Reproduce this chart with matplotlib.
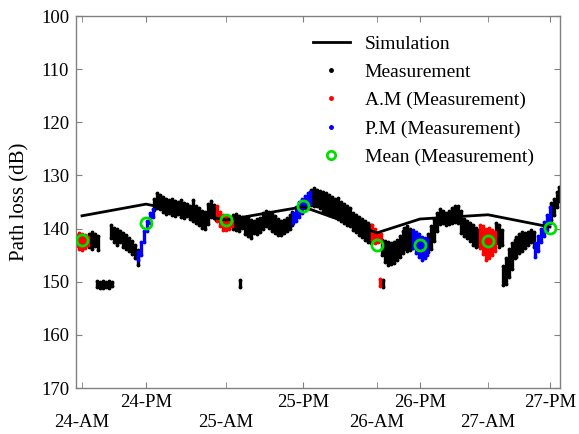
import matplotlib
matplotlib.use("Agg")
import matplotlib.pyplot as plt
from matplotlib.lines import Line2D

plt.rcParams['font.family'] = ['Liberation Serif', 'DejaVu Serif']
plt.rcParams['font.size'] = 13

# tick positions (sample index) and labels
am_pos = [6, 150, 301, 412]
am_lab = ['24-AM', '25-AM', '26-AM', '27-AM']
pm_pos = [70, 227, 344, 474]
pm_lab = ['24-PM', '25-PM', '26-PM', '27-PM']
tick_pos = [6, 70, 150, 227, 301, 344, 412, 474]

# simulation path loss at each tick
sim_loss = [137.6, 135.4, 138.4, 135.9, 140.8, 138.2, 137.4, 139.7]

# mean of measurement at each tick
mean_loss = [142.2, 138.9, 138.3, 135.7, 143.1, 143.0, 142.3, 139.8]

# measurement segments: x, lower dB, upper dB (envelope of the point cloud)
# A.M (red)
r1_x = [0, 3, 6, 9, 12]
r1_lo = [141.2, 140.9, 141.0, 141.3, 141.6]
r1_hi = [143.2, 143.8, 144.0, 143.6, 143.0]
r2_x = [141, 144, 147, 150, 153, 156]
r2_lo = [135.8, 136.8, 137.4, 137.6, 137.8, 138.0]
r2_hi = [138.6, 139.6, 140.2, 140.3, 140.0, 139.6]
r3_x = [296, 299, 302, 305]
r3_lo = [139.3, 140.0, 140.8, 141.0]
r3_hi = [142.2, 142.8, 142.6, 142.4]
r3b_x = [304]
r3b_lo = [149.4]
r3b_hi = [150.8]
r4_x = [404, 407, 410, 413, 416, 419]
r4_lo = [139.3, 139.6, 140.0, 139.8, 140.2, 140.6]
r4_hi = [143.6, 144.8, 145.9, 145.6, 145.0, 144.2]

# P.M (blue)
p1_x = [62, 65, 68, 71, 74, 77]
p1_lo = [144.5, 142.5, 140.5, 138.5, 137.0, 136.3]
p1_hi = [146.0, 145.0, 142.5, 140.5, 139.0, 137.8]
p2_x = [217, 220, 223, 226, 229, 232, 234]
p2_lo = [137.0, 136.0, 135.0, 134.4, 133.8, 133.4, 133.2]
p2_hi = [139.0, 138.6, 137.8, 137.0, 136.2, 135.6, 135.4]
p3_x = [337, 340, 343, 346, 349, 351]
p3_lo = [140.2, 140.6, 141.0, 141.6, 141.8, 142.0]
p3_hi = [143.6, 144.6, 145.4, 145.9, 145.6, 145.0]
p4_x = [459, 462, 465, 468, 471, 474]
p4_lo = [142.8, 141.4, 140.0, 138.8, 137.4, 136.0]
p4_hi = [145.3, 144.2, 142.6, 141.4, 140.2, 139.0]

# other measurement (black)
b1_x = [13, 16, 19, 22]
b1_lo = [141.0, 140.6, 141.0, 141.4]
b1_hi = [143.4, 143.8, 143.2, 144.0]
b2_x = [21, 24, 27, 30, 33, 36]
b2_lo = [149.8, 150.0, 149.9, 150.1, 149.8, 150.0]
b2_hi = [151.0, 151.2, 151.1, 151.0, 151.2, 150.9]
b3_x = [35, 38, 41, 44, 47, 50, 53, 56, 59, 62]
b3_lo = [139.4, 139.8, 140.0, 140.5, 140.8, 141.2, 141.8, 142.4, 143.0, 144.0]
b3_hi = [141.8, 142.6, 143.0, 142.6, 143.4, 143.8, 144.2, 144.8, 145.5, 146.9]
b4_x = [78, 81, 84, 87, 90, 93, 96, 99, 102, 105, 108, 111, 114, 117, 120,
        123, 126, 129, 132, 135, 138, 140]
b4_lo = [134.5, 133.4, 133.6, 134.0, 134.4, 134.6, 134.5, 134.8, 135.0, 134.6,
         135.2, 135.4, 135.8, 134.6, 135.8, 136.2, 136.6, 136.8, 135.4, 134.9,
         135.5, 136.0]
b4_hi = [136.5, 136.2, 136.4, 136.8, 137.2, 137.0, 137.4, 137.6, 137.2, 137.8,
         138.0, 137.6, 138.2, 138.6, 139.0, 139.4, 139.8, 140.0, 139.2, 137.8,
         138.0, 138.4]
b5_x = [157, 160, 163, 166, 169, 172, 175, 178, 181, 184, 187, 190, 193, 196,
        199, 202, 205, 208, 211, 214, 216]
b5_lo = [137.4, 137.2, 137.6, 137.8, 138.2, 137.8, 138.4, 138.6, 138.2, 138.0,
         137.0, 136.6, 136.8, 137.2, 137.6, 138.2, 138.6, 138.4, 138.0, 137.4,
         136.8]
b5_hi = [140.0, 140.2, 140.4, 139.8, 141.0, 141.4, 141.8, 140.8, 141.0, 140.6,
         140.0, 139.6, 139.8, 140.4, 140.8, 141.2, 141.2, 140.8, 140.4, 140.0,
         139.4]
b5b_x = [164]
b5b_lo = [149.7]
b5b_hi = [151.0]
b6_x = [235, 238, 241, 244, 247, 250, 253, 256, 259, 262, 265, 268, 271, 274,
        277, 280, 283, 286, 289, 292, 295]
b6_lo = [132.8, 132.4, 132.7, 133.0, 133.2, 133.4, 133.6, 134.0, 134.4, 134.3,
         135.0, 135.4, 135.8, 136.2, 137.0, 137.4, 137.8, 138.2, 138.6, 139.0,
         139.4]
b6_hi = [135.6, 135.8, 135.8, 136.2, 136.6, 137.0, 137.4, 137.6, 137.8, 138.2,
         138.6, 139.0, 139.4, 139.6, 140.2, 140.6, 141.2, 141.6, 142.2, 142.5,
         142.8]
b7_x = [306, 309, 312, 315, 318, 321, 324, 327]
b7_lo = [142.2, 142.4, 142.6, 142.8, 142.6, 142.2, 141.4, 140.4]
b7_hi = [145.0, 146.2, 146.9, 146.6, 146.4, 146.0, 145.4, 144.6]
b7b_x = [307]
b7b_lo = [149.6]
b7b_hi = [151.0]
b8_x = [328, 331, 334, 336]
b8_lo = [139.8, 139.6, 140.0, 140.4]
b8_hi = [143.8, 144.3, 144.0, 143.6]
b9_x = [352, 355, 358, 361, 364, 367, 370, 373, 376, 379, 382, 385, 388, 391,
        394, 397, 400, 403]
b9_lo = [141.0, 139.6, 138.2, 137.0, 136.4, 136.6, 137.0, 136.6, 136.2, 135.8,
         135.8, 136.6, 138.2, 138.6, 139.0, 139.4, 139.8, 140.2]
b9_hi = [144.4, 143.8, 142.4, 140.4, 139.2, 139.0, 139.4, 139.2, 139.0, 138.8,
         139.0, 140.8, 141.4, 141.8, 142.4, 143.0, 143.4, 143.2]
b10_x = [420, 423, 426]
b10_lo = [139.0, 139.4, 140.2]
b10_hi = [142.8, 143.4, 143.0]
b11_x = [427, 430, 433, 436, 439]
b11_lo = [147.0, 145.6, 143.8, 142.8, 142.2]
b11_hi = [150.6, 150.4, 149.2, 147.6, 145.6]
b12_x = [440, 443, 446, 449, 452, 455, 458]
b12_lo = [141.6, 141.0, 140.6, 140.8, 140.6, 140.2, 140.6]
b12_hi = [145.4, 144.6, 144.2, 143.6, 143.0, 142.6, 143.4]
b13_x = [475, 478, 481, 483]
b13_lo = [135.2, 134.4, 133.2, 132.2]
b13_hi = [138.4, 137.4, 136.0, 134.8]

black_segs = [(b1_x, b1_lo, b1_hi), (b2_x, b2_lo, b2_hi), (b3_x, b3_lo, b3_hi),
              (b4_x, b4_lo, b4_hi), (b5_x, b5_lo, b5_hi), (b5b_x, b5b_lo, b5b_hi),
              (b6_x, b6_lo, b6_hi), (b7_x, b7_lo, b7_hi), (b7b_x, b7b_lo, b7b_hi),
              (b8_x, b8_lo, b8_hi), (b9_x, b9_lo, b9_hi), (b10_x, b10_lo, b10_hi),
              (b11_x, b11_lo, b11_hi), (b12_x, b12_lo, b12_hi), (b13_x, b13_lo, b13_hi)]
red_segs = [(r1_x, r1_lo, r1_hi), (r2_x, r2_lo, r2_hi), (r3_x, r3_lo, r3_hi),
            (r3b_x, r3b_lo, r3b_hi), (r4_x, r4_lo, r4_hi)]
blue_segs = [(p1_x, p1_lo, p1_hi), (p2_x, p2_lo, p2_hi), (p3_x, p3_lo, p3_hi),
             (p4_x, p4_lo, p4_hi)]

RED = '#ff0000'
BLUE = '#0000ff'
GREEN = '#00e000'

fig = plt.figure(figsize=(5.79, 4.34), dpi=100)
ax = fig.add_axes([76 / 579, 1 - 388 / 434, 484 / 579, 372 / 434])

def draw_cloud(segs, color):
    for x, lo, hi in segs:
        ax.vlines(x, lo, hi, colors=color, lw=2.4, zorder=2)
        ax.plot(x, lo, '.', color=color, ms=3.5, zorder=2)
        ax.plot(x, hi, '.', color=color, ms=3.5, zorder=2)

draw_cloud(black_segs, 'black')
draw_cloud(red_segs, RED)
draw_cloud(blue_segs, BLUE)

ax.plot(tick_pos, sim_loss, color='black', lw=2, zorder=3)
ax.plot(tick_pos, mean_loss, 'o', mfc='none', mec=GREEN, mew=2, ms=8, zorder=4)

ax.set_xlim(0, 484)
ax.set_ylim(170, 100)
ax.set_yticks(range(100, 171, 10))
ax.set_xticks(pm_pos)
ax.set_xticklabels(pm_lab)
ax.set_xticks(am_pos, minor=True)
ax.set_xticklabels(am_lab, minor=True)
ax.set_ylabel('Path loss (dB)', fontsize=15, labelpad=8)
ax.tick_params(which='both', direction='in', top=True, right=True, length=4,
               color='0.5', labelsize=13.5)
ax.tick_params(axis='x', which='major', pad=4)
ax.tick_params(axis='x', which='minor', pad=18.5)
ax.tick_params(axis='y', pad=5)
for s in ax.spines.values():
    s.set_color('0.5')
    s.set_linewidth(1)

handles = [
    Line2D([], [], color='black', lw=2),
    Line2D([], [], ls='none', marker='.', color='black', ms=5),
    Line2D([], [], ls='none', marker='.', color=RED, ms=5),
    Line2D([], [], ls='none', marker='.', color=BLUE, ms=5),
    Line2D([], [], ls='none', marker='o', mfc='none', mec=GREEN, mew=2, ms=6),
]
labels = ['Simulation', 'Measurement', 'A.M (Measurement)', 'P.M (Measurement)',
          'Mean (Measurement)']
ax.legend(handles, labels, loc='upper left', frameon=False, fontsize=14,
          bbox_to_anchor=(313 / 579, 1 - 35 / 434), bbox_transform=fig.transFigure,
          borderpad=0, borderaxespad=0, handlelength=1.9, handletextpad=0.75,
          labelspacing=0.55)

fig.savefig('out.png', dpi=100)
